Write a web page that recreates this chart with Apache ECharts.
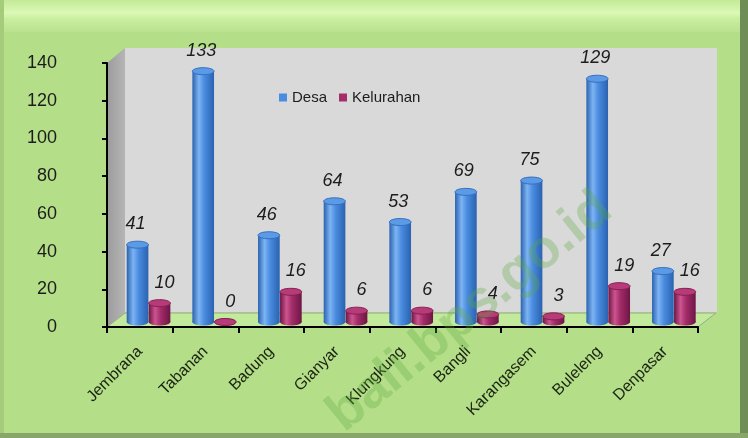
<!DOCTYPE html>
<html>
<head>
<meta charset="utf-8">
<script src="https://cdn.jsdelivr.net/npm/echarts@6/dist/echarts.min.js"></script>
<style>
html, body { margin: 0; padding: 0; background: #b5de89; }
#chart { width: 748px; height: 438px; }
</style>
</head>
<body>
<div id="chart"></div>
<script>
const categories = ['Jembrana', 'Tabanan', 'Badung', 'Gianyar', 'Klungkung', 'Bangli', 'Karangasem', 'Buleleng', 'Denpasar'];
const desa = [41, 133, 46, 64, 53, 69, 75, 129, 27];
const kelurahan = [10, 0, 16, 6, 6, 4, 3, 19, 16];
const yMin = 0, yMax = 140, yStep = 20;

const W = 748, H = 438;
const grid = { left: 107, top: 63, right: 50, bottom: 111 };
const gx0 = grid.left, gx1 = W - grid.right, gy0 = grid.top, gy1 = H - grid.bottom;
const dx = 18, dy = 14;
const narrow = '"Liberation Sans Narrow", "Liberation Sans", Arial, sans-serif';

const blue = { light: '#7db4f2', mid: '#4a8ce0', dark: '#2a62b0', top: '#5d9ae6', edge: '#336fc0' };
const plum = { light: '#cc5590', mid: '#a32c69', dark: '#6e1545', top: '#b63b78', edge: '#85204f' };

function vGrad(c) {
    return {
        type: 'linear', x: 0, y: 0, x2: 1, y2: 0,
        colorStops: [
            { offset: 0, color: c.dark },
            { offset: 0.3, color: c.light },
            { offset: 0.55, color: c.mid },
            { offset: 1, color: c.dark }
        ]
    };
}

function cylinder(offset, width, c, labelDx) {
    return function(params, api) {
        const i = api.value(0), v = api.value(1);
        const band = api.size([1, 0])[0];
        const p0 = api.coord([i, 0]);
        const p1 = api.coord([i, v]);
        const x = p0[0] - band / 2 + band * offset;
        const w = band * width;
        const yb = p0[1] - 5, yt = p1[1] - 5, ry = 3.5;
        const cx = x + w / 2;
        return {
            type: 'group',
            children: [
                { type: 'ellipse', shape: { cx: cx, cy: yb, rx: w / 2, ry: ry }, style: { fill: vGrad(c) } },
                { type: 'rect', shape: { x: x, y: yt, width: w, height: yb - yt }, style: { fill: vGrad(c) } },
                { type: 'ellipse', shape: { cx: cx, cy: yt, rx: w / 2, ry: ry }, style: { fill: c.top, stroke: c.edge, lineWidth: 1 } },
                {
                    type: 'text',
                    style: {
                        text: String(v), x: cx + labelDx, y: yt - ry - 17,
                        align: 'center', verticalAlign: 'middle',
                        fontStyle: 'italic', fontSize: 18, fontFamily: narrow, fill: '#1c1c1c'
                    }
                }
            ]
        };
    };
}

const chart = echarts.init(document.getElementById('chart'));

const background = [
    { type: 'rect', z: -20, shape: { x: 0, y: 0, width: W, height: H }, style: { fill: '#b5de89' } },
    {
        type: 'rect', z: -19, shape: { x: 4, y: 0, width: W - 12, height: 32 },
        style: {
            fill: {
                type: 'linear', x: 0, y: 0, x2: 0, y2: 1,
                colorStops: [
                    { offset: 0, color: '#c3ea98' },
                    { offset: 0.4, color: '#dcf8b6' },
                    { offset: 0.6, color: '#c9ee9f' },
                    { offset: 1, color: '#b9e28e' }
                ]
            }
        }
    },
    { type: 'rect', z: -19, shape: { x: 0, y: 0, width: 4, height: H }, style: { fill: '#a4cc7a' } },
    { type: 'rect', z: -19, shape: { x: W - 8, y: 0, width: 8, height: H }, style: { fill: '#6f8d56' } },
    { type: 'rect', z: -19, shape: { x: 0, y: H - 5, width: W, height: 5 }, style: { fill: '#88a56c' } },
    // back wall
    { type: 'rect', z: -18, shape: { x: gx0 + dx, y: gy0 - dy - 1, width: gx1 - gx0 + 1, height: gy1 - gy0 }, style: { fill: '#d9d9d9' } },
    // left side wall
    {
        type: 'polygon', z: -18,
        shape: { points: [[gx0, gy0], [gx0 + dx, gy0 - dy - 1], [gx0 + dx, gy1 - dy], [gx0, gy1]] },
        style: {
            fill: {
                type: 'linear', x: 0, y: 0, x2: 1, y2: 0,
                colorStops: [{ offset: 0, color: '#9c9c9c' }, { offset: 1, color: '#b5b5b5' }]
            }
        }
    },
    // floor
    {
        type: 'polygon', z: -17,
        shape: { points: [[gx0, gy1], [gx0 + dx, gy1 - dy], [gx1 + dx, gy1 - dy], [gx1, gy1]] },
        style: { fill: '#c3e99c', stroke: '#9aa890', lineWidth: 1 }
    },
    // watermark
    {
        type: 'text', z: 50, x: 470, y: 312, rotation: 39 * Math.PI / 180,
        style: {
            text: 'bali.bps.go.id', align: 'center', verticalAlign: 'middle',
            fontSize: 54, fontWeight: 'bold', fontFamily: '"Liberation Sans", Arial, sans-serif',
            fill: 'rgba(92, 170, 62, 0.3)'
        }
    }
];

const option = {
    animation: false,
    graphic: { elements: background },
    grid: grid,
    legend: {
        left: 274, top: 85,
        itemWidth: 8, itemHeight: 8, itemGap: 12, icon: 'rect',
        textStyle: { fontFamily: narrow, fontSize: 15, color: '#1c1c1c' },
        data: ['Desa', 'Kelurahan']
    },
    xAxis: {
        type: 'category',
        data: categories,
        axisLine: { lineStyle: { color: '#000', width: 2 } },
        axisTick: { show: true, length: 6, lineStyle: { color: '#000', width: 2 } },
        axisLabel: {
            rotate: 45, margin: 22, interval: 0,
            fontFamily: narrow, fontSize: 16, color: '#1a2412'
        },
        splitLine: { show: false }
    },
    yAxis: {
        type: 'value',
        min: yMin, max: yMax, interval: yStep,
        axisLine: { show: true, lineStyle: { color: '#000', width: 2 } },
        axisTick: { show: true, length: 5, lineStyle: { color: '#000', width: 2 } },
        axisLabel: { margin: 50, fontFamily: narrow, fontSize: 18, color: '#1c1c1c', align: 'right' },
        splitLine: { show: false }
    },
    series: [
        {
            name: 'Desa', type: 'custom',
            itemStyle: { color: '#4a8ce0' },
            encode: { x: 0, y: 1 },
            data: desa.map((v, i) => [i, v]),
            renderItem: cylinder(0.3, 0.33, blue, -2)
        },
        {
            name: 'Kelurahan', type: 'custom',
            itemStyle: { color: '#a32c69' },
            encode: { x: 0, y: 1 },
            data: kelurahan.map((v, i) => [i, v]),
            renderItem: cylinder(0.635, 0.33, plum, 5)
        }
    ]
};

chart.setOption(option);
</script>
</body>
</html>
